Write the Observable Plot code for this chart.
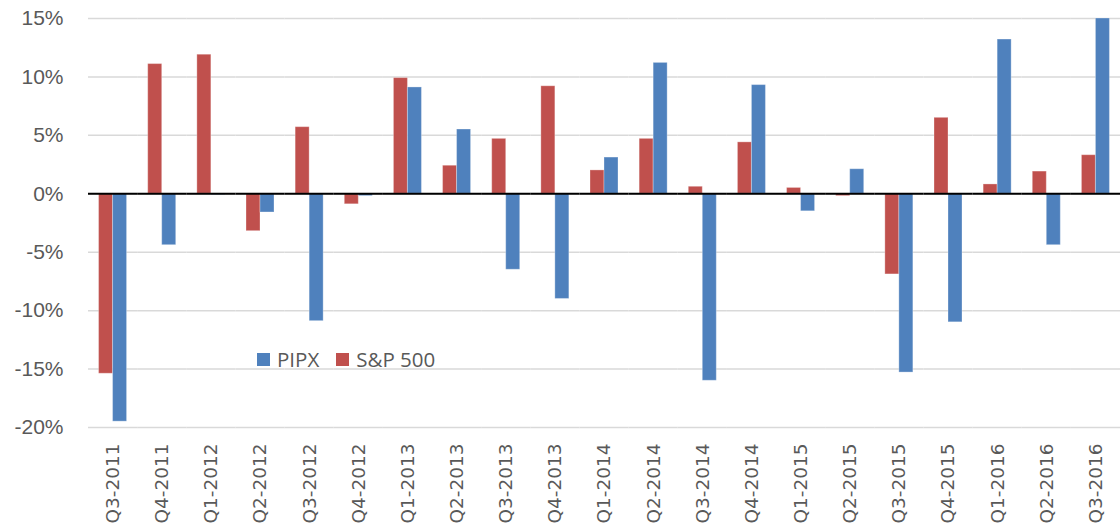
<!DOCTYPE html>
<html>
<head>
<meta charset="utf-8">
<script src="https://cdn.jsdelivr.net/npm/d3@7"></script>
<script src="https://cdn.jsdelivr.net/npm/@observablehq/plot@0.6"></script>
<style>
  html, body { margin: 0; padding: 0; background: #fff; }
  #wrap { position: relative; width: 1120px; height: 529px; }
  #legend { position: absolute; left: 257px; top: 345px; display: flex; align-items: center;
            font-family: "Open Sans", "Liberation Sans", Arial, sans-serif; font-size: 20.5px; color: #595959; }
  #legend .item { display: flex; align-items: center; margin-right: 17px; }
  #legend .sw { width: 13px; height: 13px; margin-right: 7px; display: inline-block; }
</style>
</head>
<body>
<div id="wrap"></div>
<script>
const quarters = ["Q3-2011","Q4-2011","Q1-2012","Q2-2012","Q3-2012","Q4-2012","Q1-2013","Q2-2013","Q3-2013","Q4-2013","Q1-2014","Q2-2014","Q3-2014","Q4-2014","Q1-2015","Q2-2015","Q3-2015","Q4-2015","Q1-2016","Q2-2016","Q3-2016"];
const pipx  = [-19.5, -4.4, -0.1, -1.6, -10.9, -0.2, 9.1, 5.5, -6.5, -9.0, 3.1, 11.2, -16.0, 9.3, -1.5, 2.1, -15.3, -11.0, 13.2, -4.4, 15.0];
const sp500 = [-15.4, 11.1, 11.9, -3.2, 5.7, -0.9, 9.9, 2.4, 4.7, 9.2, 2.0, 4.7, 0.6, 4.4, 0.5, -0.2, -6.9, 6.5, 0.8, 1.9, 3.3];
const seriesNames = ["PIPX", "S&P 500"];
const seriesColors = ["#4F81BD", "#C0504D"];
const barOrder = ["S&P 500", "PIPX"];
const yTicks = [-20, -15, -10, -5, 0, 5, 10, 15];

const data = quarters.flatMap((q, i) => [
  {quarter: q, series: "S&P 500", value: sp500[i]},
  {quarter: q, series: "PIPX", value: pipx[i]}
]);

const chart = Plot.plot({
  width: 1120,
  height: 529,
  marginLeft: 88,
  marginRight: 0,
  marginTop: 18,
  marginBottom: 102,
  style: {fontFamily: "'Liberation Sans', Arial, sans-serif", color: "#595959", background: "#fff"},
  fx: {domain: quarters, padding: 0, round: false, label: null},
  x: {domain: barOrder, paddingInner: 0, paddingOuter: 0.755, round: false, axis: null},
  y: {domain: [-20, 15], axis: null},
  color: {domain: seriesNames, range: seriesColors},
  marks: [
    Plot.gridY(yTicks, {stroke: "#D9D9D9", strokeOpacity: 1, strokeWidth: 1.5}),
    Plot.barY(data, {fx: "quarter", x: "series", y: "value", fill: "series", stroke: "#fff", strokeOpacity: 0.3, strokeWidth: 1}),
    Plot.ruleY([0], {stroke: "#000", strokeWidth: 2}),
    Plot.axisY(yTicks, {tickFormat: d => `${d}%`, tickSize: 0, tickPadding: 25, fontSize: 21, label: null}),
    Plot.axisFx({anchor: "bottom", tickRotate: -90, tickSize: 0, tickPadding: 16, fontSize: 18.5, fontFamily: "'DejaVu Sans', Verdana, sans-serif", label: null})
  ]
});

const wrap = document.getElementById("wrap");
wrap.appendChild(chart);

const legend = document.createElement("div");
legend.id = "legend";
seriesNames.forEach((name, i) => {
  const item = document.createElement("span");
  item.className = "item";
  const sw = document.createElement("span");
  sw.className = "sw";
  sw.style.background = seriesColors[i];
  item.appendChild(sw);
  item.appendChild(document.createTextNode(name));
  legend.appendChild(item);
});
wrap.appendChild(legend);
</script>
</body>
</html>
